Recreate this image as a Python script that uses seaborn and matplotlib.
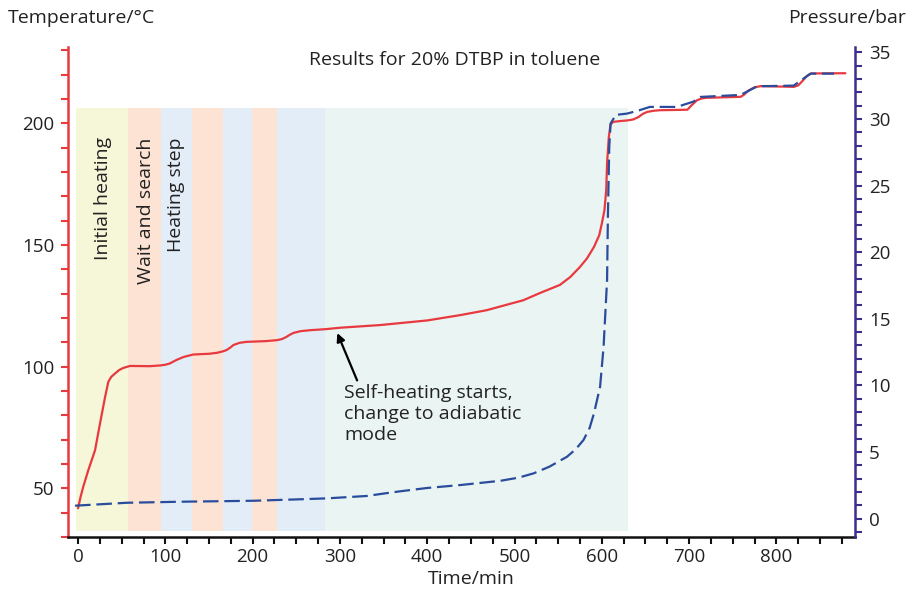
import matplotlib
matplotlib.use("Agg")
import matplotlib.pyplot as plt
from matplotlib.ticker import MultipleLocator
import seaborn as sns
import pandas as pd

# ---------------- data ----------------
time_T = [0, 3, 6, 11.8, 19.5, 25.2, 31, 34.7, 38, 42.4, 47, 52, 59.6, 82.5, 94, 100, 105, 113,
          121, 132, 150, 159, 165, 170, 175, 178, 185, 193, 215, 228, 234, 239, 243, 247, 255,
          266, 283, 300, 346, 400, 438, 468, 510, 530, 552, 564, 575, 583, 591, 597, 600, 603,
          605, 606, 608, 610, 613, 620, 629, 636, 642, 647, 652, 660, 667, 698, 703, 709, 714,
          720, 759, 763, 768, 775, 782, 820, 825, 830, 835, 840, 879]
temperature = [41.8, 46.6, 50.7, 57.5, 65.7, 76.7, 87.6, 93.8, 95.8, 97.2, 98.6, 99.5, 100.3,
               100.2, 100.5, 100.8, 101.3, 102.8, 104, 105, 105.3, 105.7, 106.2, 106.8, 108,
               108.9, 109.8, 110.2, 110.5, 110.9, 111.4, 112.3, 113.2, 113.9, 114.6, 115, 115.4,
               116, 117.1, 119, 121.2, 123.2, 127.3, 130.4, 133.6, 136.9, 141, 144.5, 149.2,
               154, 158.8, 164.3, 172.5, 183.5, 194.4, 199.5, 200.6, 200.9, 201.2, 201.6, 202.6,
               203.9, 204.7, 205.2, 205.4, 205.6, 207.5, 209.5, 210.2, 210.5, 210.9, 211.8,
               213.5, 214.8, 215.3, 215, 215.6, 217.5, 219.5, 220.5, 220.6]

time_P = [-3.4, 56, 120, 201, 254, 285, 331, 350, 369, 400, 438, 484, 505, 522, 540, 560, 570,
          579, 586, 591, 598, 602, 606, 607, 608.5, 610, 616, 629, 643, 655, 686, 705, 713, 759,
          778, 820, 823, 839, 866]
pressure = [0.97, 1.19, 1.27, 1.34, 1.45, 1.52, 1.70, 1.88, 2.05, 2.3, 2.52, 2.84, 3.08, 3.4,
            3.9, 4.64, 5.2, 5.9, 6.8, 7.9, 9.9, 12.9, 17.9, 22.9, 27.9, 29.65, 30.3, 30.4, 30.65,
            30.9, 30.9, 31.3, 31.65, 31.8, 32.45, 32.5, 32.65, 33.4, 33.4]

# phase bands (start, end in minutes) and colours
band_start = [-2.3, 57.3, 95, 130.7, 166, 199.4, 228, 283]
band_end = [57.3, 95, 130.7, 166, 199.4, 228, 283, 630]
band_colors = ["#f6f6d8", "#fde3d3", "#e3edf8", "#fde3d3", "#e3edf8", "#fde3d3", "#e3edf8",
               "#eaf4f3"]
band_bottom, band_top = 32.5, 206.3

phase_labels = ["Initial heating", "Wait and search", "Heating step"]
phase_label_x = [28.7, 78, 112]
phase_label_top = 194.3

title = "Results for 20% DTBP in toluene"
annotation = "Self-heating starts,\nchange to adiabatic\nmode"

# ---------------- style ----------------
sns.set_style("ticks")
plt.rcParams["font.family"] = ["Open Sans", "DejaVu Sans"]
FS = 14
TFS = 13.5
TXT = "#222222"
RED = "#e8393f"
BLUE = "#2a4c9c"
PURPLE = "#3d2d8c"

fig = plt.figure(figsize=(9.2, 5.94), dpi=100)
ax = fig.add_axes([68 / 920, 57 / 594, 787 / 920, 490.3 / 594])
ax2 = ax.twinx()

# bands
for x0, x1, c in zip(band_start, band_end, band_colors):
    ax.fill_between([x0, x1], band_bottom, band_top, color=c, lw=0, zorder=0)

df_T = pd.DataFrame({"time": time_T, "temp": temperature})
df_P = pd.DataFrame({"time": time_P, "pres": pressure})
sns.lineplot(data=df_T, x="time", y="temp", ax=ax, color=RED, lw=1.6, sort=False, zorder=3)
sns.lineplot(data=df_P, x="time", y="pres", ax=ax2, color=BLUE, lw=1.6, sort=False,
             linestyle=(0, (7, 2.6)), zorder=3)

ax.set_xlim(-11.5, 890)
ax.set_ylim(30, 231.5)
ax2.set_ylim(-1.38, 35.42)

ax.xaxis.set_major_locator(MultipleLocator(100))
ax.xaxis.set_minor_locator(MultipleLocator(25))
ax.yaxis.set_major_locator(MultipleLocator(50))
ax.yaxis.set_minor_locator(MultipleLocator(10))
ax2.yaxis.set_major_locator(MultipleLocator(5))
ax2.yaxis.set_minor_locator(MultipleLocator(1))

for s in ["top", "right"]:
    ax.spines[s].set_visible(False)
for s in ["top", "left", "bottom"]:
    ax2.spines[s].set_visible(False)
ax.spines["left"].set_color(RED)
ax.spines["left"].set_linewidth(1.8)
ax.spines["bottom"].set_color("#111111")
ax.spines["bottom"].set_linewidth(1.8)
ax2.spines["right"].set_color(PURPLE)
ax2.spines["right"].set_linewidth(1.8)

ax.tick_params(axis="y", which="both", color=RED, length=5, width=1.5, labelcolor=TXT,
               labelsize=TFS, pad=5)
ax.tick_params(axis="x", which="both", color="#111111", length=5, width=1.5, labelcolor=TXT,
               labelsize=TFS, pad=3)
ax2.tick_params(axis="y", which="both", color=PURPLE, length=5, width=1.5, labelcolor=TXT,
                labelsize=TFS, pad=5)

ax.set_xlabel("Time/min", fontsize=FS, color=TXT)
ax.xaxis.set_label_coords((471 - 68) / 787, -0.068)
ax.set_ylabel("")
ax2.set_ylabel("")

fig.text(8 / 920, 1 - 18 / 594, "Temperature/°C", fontsize=FS, color=TXT, ha="left", va="center")
fig.text(906 / 920, 1 - 18 / 594, "Pressure/bar", fontsize=FS, color=TXT, ha="right", va="center")
fig.text(455 / 920, 1 - 60 / 594, title, fontsize=FS, color=TXT, ha="center", va="center")

for lab, xx in zip(phase_labels, phase_label_x):
    ax.text(xx, phase_label_top, lab, rotation=90, ha="center", va="top", fontsize=FS,
            color=TXT, zorder=4)

ax.annotate(annotation, xy=(297, 113.8), xytext=(305, 93), textcoords="data",
            ha="left", va="top", fontsize=FS, color=TXT, linespacing=1.22, zorder=5,
            arrowprops=dict(arrowstyle="-|>", color="black", lw=1.6, mutation_scale=12,
                            shrinkA=0, shrinkB=0, relpos=(0.08, 1.0)))

fig.savefig("out.png", dpi=100)
